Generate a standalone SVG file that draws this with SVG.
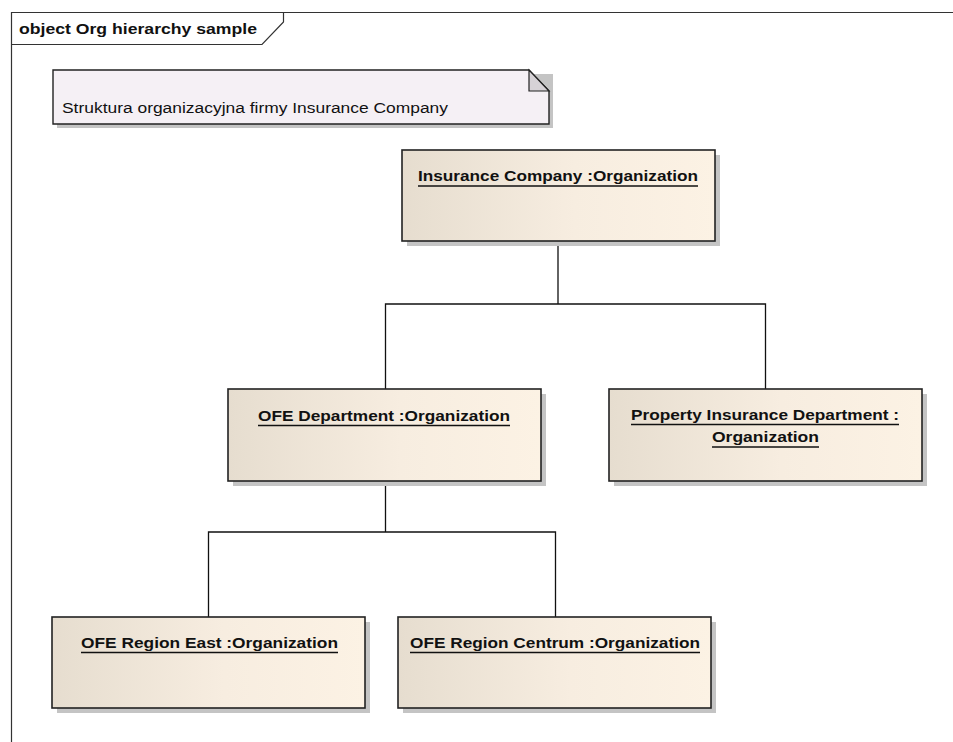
<svg xmlns="http://www.w3.org/2000/svg" width="953" height="742" viewBox="0 0 953 742">
  <defs>
    <linearGradient id="objFill" x1="0" y1="0" x2="1" y2="0">
      <stop offset="0" stop-color="#e6ddcf"/>
      <stop offset="0.55" stop-color="#f7ede0"/>
      <stop offset="1" stop-color="#fcf2e4"/>
    </linearGradient>
    <style>
      .frame { fill: none; stroke: #333; stroke-width: 1.2; }
      .shadow { fill: #c4c4c4; }
      .obj { fill: url(#objFill); stroke: #222; stroke-width: 1.6; }
      .note { fill: #f5f0f5; stroke: #222; stroke-width: 1.4; }
      .fold { fill: #d6d2d6; stroke: #222; stroke-width: 1.2; }
      .wire { fill: none; stroke: #111; stroke-width: 1.3; }
      .ul { stroke: #111; stroke-width: 1.3; }
      .lbl { font-family: "Liberation Sans", Arial, sans-serif; font-weight: bold; font-size: 15.5px; fill: #111; }
      .txt { font-family: "Liberation Sans", Arial, sans-serif; font-size: 15.5px; fill: #111; }
    </style>
  </defs>

  <rect width="953" height="742" fill="#ffffff"/>

  <!-- diagram frame -->
  <g id="frame">
    <path class="frame" d="M11.5,742 V12.5 H953"/>
    <path class="frame" d="M11.5,44.5 H262 L283.5,22 V12.5"/>
    <text class="lbl" x="19" y="34" textLength="238" lengthAdjust="spacingAndGlyphs">object Org hierarchy sample</text>
  </g>

  <!-- note -->
  <g id="note">
    <path class="shadow" d="M57,74 H553 V128 H57 Z"/>
    <path class="note" d="M53,70 H529 L549,91 V124 H53 Z"/>
    <path class="fold" d="M529,70 V91 H549 Z"/>
    <text class="txt" x="62" y="112.5" textLength="386" lengthAdjust="spacingAndGlyphs">Struktura organizacyjna firmy Insurance Company</text>
  </g>

  <!-- connectors -->
  <g id="connectors">
    <path class="wire" d="M558,241 V304 M385.5,389 V304 H765.5 V389"/>
    <path class="wire" d="M385.5,481 V532 M208.5,617 V532 H555.5 V617"/>
  </g>

  <g id="insurance-company">
    <rect class="shadow" x="407" y="155" width="313" height="91"/>
    <rect class="obj" x="402" y="150" width="313" height="91"/>
    <text class="lbl" x="418" y="181" textLength="280" lengthAdjust="spacingAndGlyphs">Insurance Company :Organization</text>
    <line class="ul" x1="418" y1="186" x2="698" y2="186"/>
  </g>

  <g id="ofe-department">
    <rect class="shadow" x="233" y="394" width="313" height="92"/>
    <rect class="obj" x="228" y="389" width="313" height="92"/>
    <text class="lbl" x="258" y="421" textLength="252" lengthAdjust="spacingAndGlyphs">OFE Department :Organization</text>
    <line class="ul" x1="258" y1="425.5" x2="510" y2="425.5"/>
  </g>

  <g id="property-insurance-department">
    <rect class="shadow" x="614" y="394" width="313" height="92"/>
    <rect class="obj" x="609" y="389" width="313" height="92"/>
    <text class="lbl" x="631" y="420" textLength="268" lengthAdjust="spacingAndGlyphs">Property Insurance Department :</text>
    <line class="ul" x1="631" y1="424.5" x2="899" y2="424.5"/>
    <text class="lbl" x="712" y="442" textLength="107" lengthAdjust="spacingAndGlyphs">Organization</text>
    <line class="ul" x1="712" y1="447" x2="819" y2="447"/>
  </g>

  <g id="ofe-region-east">
    <rect class="shadow" x="57" y="622" width="313" height="91"/>
    <rect class="obj" x="52" y="617" width="313" height="91"/>
    <text class="lbl" x="81" y="648" textLength="257" lengthAdjust="spacingAndGlyphs">OFE Region East :Organization</text>
    <line class="ul" x1="81" y1="652.5" x2="338" y2="652.5"/>
  </g>

  <g id="ofe-region-centrum">
    <rect class="shadow" x="403" y="622" width="313" height="91"/>
    <rect class="obj" x="398" y="617" width="313" height="91"/>
    <text class="lbl" x="410" y="648" textLength="290" lengthAdjust="spacingAndGlyphs">OFE Region Centrum :Organization</text>
    <line class="ul" x1="410" y1="652.5" x2="700" y2="652.5"/>
  </g>
</svg>
